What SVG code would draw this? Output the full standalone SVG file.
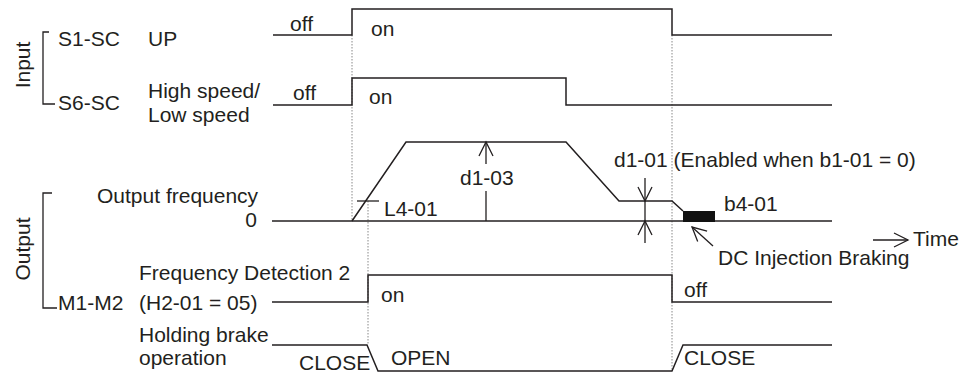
<svg xmlns="http://www.w3.org/2000/svg" width="963" height="375" viewBox="0 0 963 375">
<style>
text{font-family:"Liberation Sans",Arial,Helvetica,sans-serif;font-size:21px;fill:#231f20}
.sig{fill:none;stroke:#231f20;stroke-width:1.5;stroke-linejoin:miter}
.thin{fill:none;stroke:#231f20;stroke-width:1.3}
.dot{fill:none;stroke:#888;stroke-width:1;stroke-dasharray:1.5,1.5}
.arr{fill:none;stroke:#231f20;stroke-width:1.3;marker-end:url(#ah)}
</style>
<defs>
<marker id="ah" markerUnits="userSpaceOnUse" markerWidth="20" markerHeight="20" viewBox="-16 -10 20 20" refX="0" refY="0" orient="auto" overflow="visible">
<path d="M-14,-7 L0,0 L-14,7" fill="none" stroke="#231f20" stroke-width="1.3"/>
</marker>
</defs>
<rect width="963" height="375" fill="#fff"/>
<g id="guides">
<line class="dot" x1="352" y1="35" x2="352" y2="221"/>
<line class="dot" x1="368" y1="201" x2="368" y2="345"/>
<line class="dot" x1="672" y1="35" x2="672" y2="371"/>
</g>
<g id="input-group">
<text transform="translate(30,65) rotate(-90)" text-anchor="middle">Input</text>
<path class="thin" d="M49,32 H43 V104 H55"/>
</g>
<g id="s1-sc">
<text x="58" y="45.5">S1-SC</text>
<text x="148" y="45.5">UP</text>
<text x="290" y="31">off</text>
<text x="371" y="36">on</text>
<polyline class="sig" points="273,35 352,35 352,9 672,9 672,35 832,35"/>
</g>
<g id="s6-sc">
<text x="58" y="110">S6-SC</text>
<text x="148" y="98">High speed/</text>
<text x="148" y="122">Low speed</text>
<text x="293" y="100">off</text>
<text x="369" y="104">on</text>
<polyline class="sig" points="273,105 352,105 352,78 566,78 566,105 832,105"/>
</g>
<g id="output-group">
<text transform="translate(30,249) rotate(-90)" text-anchor="middle">Output</text>
<path class="thin" d="M52,193 H43 V308 H57"/>
</g>
<g id="output-frequency">
<text x="97" y="203">Output frequency</text>
<text x="257" y="227" text-anchor="end">0</text>
<line class="sig" x1="272" y1="221" x2="832" y2="221"/>
<polyline class="sig" points="352,221 406,142 566,142 619,201 672,201 683,211"/>
<rect x="683" y="211" width="32" height="11" fill="#111"/>
<line class="thin" x1="357" y1="201" x2="379" y2="201"/>
<text x="384" y="216">L4-01</text>
<text x="460" y="185">d1-03</text>
<text x="614" y="167">d1-01 (Enabled when b1-01 = 0)</text>
<text x="724" y="211">b4-01</text>
<text x="718" y="265">DC Injection Braking</text>
<text x="913" y="246">Time</text>
</g>
<g id="m1-m2">
<text x="139" y="280">Frequency Detection 2</text>
<text x="139" y="310">(H2-01 = 05)</text>
<text x="58" y="310">M1-M2</text>
<text x="381" y="302">on</text>
<text x="684" y="297">off</text>
<polyline class="sig" points="272,302 368,302 368,275 672,275 672,302 832,302"/>
</g>
<g id="holding-brake">
<text x="139" y="342">Holding brake</text>
<text x="139" y="365">operation</text>
<text x="299" y="370">CLOSE</text>
<text x="391" y="365">OPEN</text>
<text x="684" y="365">CLOSE</text>
<polyline class="sig" points="272,345 367,345 378,371 672,371 683,345 832,345"/>
</g>
<g id="connectors">
<line class="thin" x1="486" y1="191" x2="486" y2="221"/>
<line class="arr" x1="486" y1="164" x2="486" y2="142"/>
<line class="arr" x1="645" y1="178" x2="645" y2="201"/>
<line class="thin" x1="645" y1="201" x2="645" y2="221"/>
<line class="arr" x1="645" y1="243" x2="645" y2="221"/>
<line class="arr" x1="713" y1="246" x2="692" y2="227"/>
<line class="arr" x1="873" y1="240" x2="908" y2="240"/>
</g>
</svg>
